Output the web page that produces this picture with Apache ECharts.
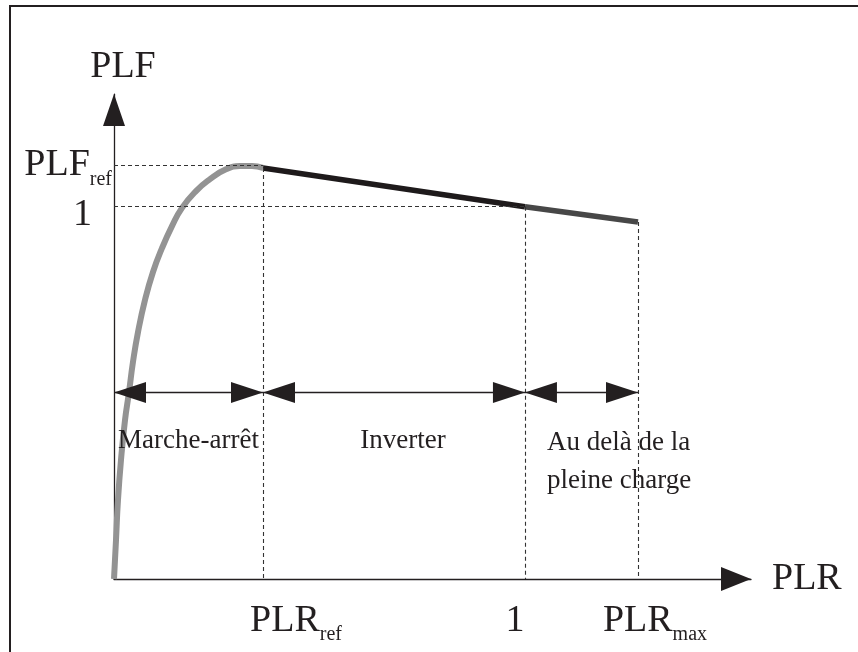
<!DOCTYPE html>
<html>
<head>
<meta charset="utf-8">
<script src="https://cdn.jsdelivr.net/npm/echarts@6/dist/echarts.min.js"></script>
<style>
  html, body { margin: 0; padding: 0; background: #fff; }
  #chart { width: 858px; height: 652px; }
</style>
</head>
<body>
<div id="chart"></div>
<script>
// PLR ticks: reference point, full load, maximum
const plrTicks = [0.3625, 1, 1.275];
const plrTickSubs = ['ref', '', 'max'];
// PLF levels: 1 and the reference (peak) value
const plfTicks = [1, 1.109];
const plfTickSubs = ['', 'ref'];

// On/off cycling part of the curve, from the origin up to PLR_ref
const cyclingCurve = [
  [0, 0], [0.0049, 0.105], [0.0097, 0.212], [0.017, 0.319], [0.0268, 0.426],
  [0.0365, 0.501], [0.0462, 0.582], [0.0584, 0.662], [0.0754, 0.748], [0.0949, 0.823],
  [0.1168, 0.887], [0.1411, 0.946], [0.1655, 0.995], [0.1995, 1.040], [0.2336, 1.072],
  [0.270, 1.097], [0.3066, 1.107], [0.3358, 1.107], [0.3625, 1.102]
];
// Inverter region, PLR_ref to full load
const inverterLine = [[0.3625, 1.102], [1, 0.998]];
// Beyond full load, up to PLR_max
const overloadLine = [[1, 0.998], [1.275, 0.957]];

// Operating zones along the PLR axis
const zoneNames = ['Marche-arrêt', 'Inverter', 'Au delà de la\npleine charge'];
const zoneBounds = [0, 0.3625, 1, 1.275];
const zoneLevel = 0.5;

const FONT = "'Liberation Serif', 'DejaVu Serif', serif";
const INK = '#231f20';

function nearestIndex(list, v) {
  let best = 0;
  list.forEach((t, i) => { if (Math.abs(t - v) < Math.abs(list[best] - v)) best = i; });
  return best;
}

// big symbol text with a lowered subscript
const tickRich = {
  m: { fontFamily: FONT, fontSize: 38, lineHeight: 48, color: INK },
  mRef: { fontFamily: FONT, fontSize: 38, lineHeight: 48, color: INK, padding: [0, 0, 0, 66] },
  mMax: { fontFamily: FONT, fontSize: 38, lineHeight: 48, color: INK, padding: [0, 0, 0, 34] },
  oneX: { fontFamily: FONT, fontSize: 38, lineHeight: 48, color: INK, padding: [0, 20, 0, 0] },
  oneY: { fontFamily: FONT, fontSize: 38, lineHeight: 24, color: INK, padding: [18, 20, 0, 0] },
  s: { fontFamily: FONT, fontSize: 20, lineHeight: 6, verticalAlign: 'bottom', color: INK }
};

const chart = echarts.init(document.getElementById('chart'));

// dashed guides from the curve breakpoints to both axes;
// the PLF_ref guide carries its own level label at the axis end
const guideLines = [
  [{
    coord: [0, plfTicks[1]],
    label: {
      show: true,
      position: 'start',
      distance: 2,
      formatter: '{m|PLF}{s|' + plfTickSubs[1] + '}',
      rich: tickRich
    }
  }, { coord: [plrTicks[0], plfTicks[1]] }],
  [{ coord: [0, plfTicks[0]] }, { coord: [plrTicks[1], plfTicks[0]] }],
  [{ coord: [plrTicks[0], inverterLine[0][1]] }, { coord: [plrTicks[0], 0] }],
  [{ coord: [plrTicks[1], overloadLine[0][1]] }, { coord: [plrTicks[1], 0] }],
  [{ coord: [plrTicks[2], overloadLine[1][1]] }, { coord: [plrTicks[2], 0] }]
];

// double arrows spanning each zone (arrow tips sit on the zone bounds)
const arrowEnd = function (x) {
  return { coord: [x, zoneLevel], symbol: 'triangle', symbolSize: [21, 32], symbolOffset: [0, 16] };
};
const zoneArrows = [];
for (let i = 0; i < zoneNames.length; i++) {
  zoneArrows.push([arrowEnd(zoneBounds[i]), arrowEnd(zoneBounds[i + 1])]);
}

const zoneLabelStyles = [
  { offset: [0, 48] },
  { offset: [9, 48] },
  { offset: [22, 69], align: 'left' }
];

const option = {
  animation: false,
  backgroundColor: '#fff',
  grid: { left: 114, right: 107, top: 94.1, bottom: 73 },
  xAxis: {
    type: 'value',
    min: 0,
    max: 1.55,
    name: 'PLR',
    nameLocation: 'end',
    nameGap: 21,
    nameTextStyle: { fontFamily: FONT, fontSize: 38, color: INK },
    axisLine: {
      show: true,
      onZero: false,
      symbol: ['none', 'triangle'],
      symbolSize: [24, 30],
      symbolOffset: [0, -15],
      lineStyle: { color: INK, width: 1.3 }
    },
    axisTick: { show: false },
    splitLine: { show: false },
    axisLabel: {
      customValues: plrTicks,
      margin: 18,
      hideOverlap: false,
      showMinLabel: true,
      showMaxLabel: true,
      formatter: function (v) {
        const i = nearestIndex(plrTicks, v);
        if (i === 1) return '{oneX|1}';
        return '{' + (i === 0 ? 'mRef' : 'mMax') + '|PLR}{s|' + plrTickSubs[i] + '}';
      },
      rich: tickRich
    }
  },
  yAxis: {
    type: 'value',
    min: 0,
    max: 1.3,
    name: 'PLF',
    nameLocation: 'end',
    nameGap: 8,
    nameTextStyle: { fontFamily: FONT, fontSize: 38, color: INK, padding: [0, 0, 0, 18] },
    axisLine: {
      show: true,
      onZero: false,
      symbol: ['none', 'triangle'],
      symbolSize: [22, 32],
      symbolOffset: [0, -16],
      lineStyle: { color: INK, width: 1.3 }
    },
    axisTick: { show: false },
    splitLine: { show: false },
    axisLabel: {
      customValues: [plfTicks[0]],
      margin: 2,
      hideOverlap: false,
      formatter: function () { return '{oneY|1}'; },
      rich: tickRich
    }
  },
  graphic: [{
    type: 'polyline',
    silent: true,
    shape: { points: [[10, 652], [10, 6], [858, 6]] },
    style: { stroke: INK, lineWidth: 2, fill: null }
  }],
  series: [
    {
      // dashed guides
      type: 'line',
      data: [],
      z: 1,
      markLine: {
        silent: true,
        symbol: ['none', 'none'],
        label: { show: false },
        lineStyle: { color: '#333', width: 1.1, type: [4, 3] },
        data: guideLines
      }
    },
    {
      // zone arrows
      type: 'line',
      data: [],
      z: 2,
      markLine: {
        silent: true,
        label: { show: false },
        lineStyle: { color: INK, width: 1.3, type: 'solid' },
        itemStyle: { color: INK },
        data: zoneArrows
      }
    },
    {
      type: 'line',
      data: cyclingCurve,
      smooth: 0.5,
      showSymbol: false,
      z: 3,
      lineStyle: { color: '#939393', width: 6, cap: 'butt' }
    },
    {
      type: 'line',
      data: inverterLine,
      showSymbol: false,
      z: 4,
      lineStyle: { color: '#1e1a1b', width: 5.5, cap: 'butt' }
    },
    {
      type: 'line',
      data: overloadLine,
      showSymbol: false,
      z: 4,
      lineStyle: { color: '#474747', width: 5.5, cap: 'butt' }
    },
    {
      // zone names below the arrows
      type: 'scatter',
      symbolSize: 0,
      silent: true,
      z: 5,
      itemStyle: { opacity: 1 },
      data: zoneNames.map(function (name, i) {
        const x = i < 2 ? (zoneBounds[i] + zoneBounds[i + 1]) / 2 : zoneBounds[i];
        return {
          value: [x, zoneLevel],
          name: name,
          label: Object.assign({
            show: true,
            position: 'inside',
            formatter: name,
            fontFamily: FONT,
            fontSize: 27,
            lineHeight: 38,
            color: INK,
            opacity: 1
          }, zoneLabelStyles[i])
        };
      })
    }
  ]
};

chart.setOption(option);
</script>
</body>
</html>
